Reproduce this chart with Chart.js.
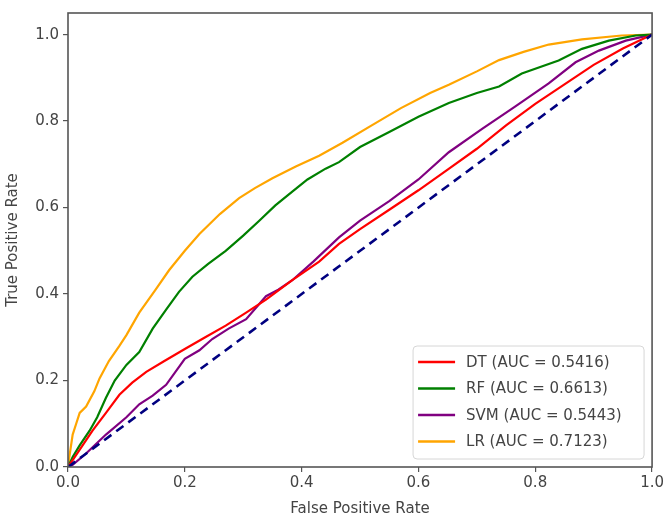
<!DOCTYPE html>
<html lang="en">
<head>
<meta charset="UTF-8">
<title>ROC curves</title>
<script src="https://cdn.jsdelivr.net/npm/chart.js"></script>
<style>
    html, body { margin: 0; padding: 0; background: #fff; }
    #wrap { width: 666px; height: 522px; }
</style>
</head>
<body>
<div id="wrap"><canvas id="rocChart" width="666" height="522"></canvas></div>
<script>
// values
const dtFpr  = [0, 0.008, 0.025, 0.042, 0.065, 0.088, 0.11, 0.134, 0.165, 0.2, 0.235, 0.27, 0.305, 0.339, 0.384, 0.43, 0.464, 0.5, 0.55, 0.6, 0.65, 0.7, 0.75, 0.8, 0.85, 0.9, 0.95, 1];
const dtTpr  = [0, 0.016, 0.05, 0.084, 0.125, 0.167, 0.195, 0.22, 0.245, 0.273, 0.3, 0.327, 0.357, 0.387, 0.432, 0.475, 0.516, 0.55, 0.595, 0.64, 0.688, 0.736, 0.79, 0.84, 0.885, 0.93, 0.968, 1];

const rfFpr  = [0, 0.008, 0.02, 0.037, 0.05, 0.065, 0.08, 0.1, 0.122, 0.145, 0.168, 0.19, 0.213, 0.24, 0.27, 0.3, 0.327, 0.355, 0.384, 0.41, 0.441, 0.464, 0.5, 0.55, 0.6, 0.652, 0.7, 0.738, 0.777, 0.84, 0.88, 0.926, 0.972, 1];
const rfTpr  = [0, 0.023, 0.05, 0.084, 0.115, 0.16, 0.2, 0.236, 0.266, 0.32, 0.364, 0.405, 0.44, 0.47, 0.5, 0.535, 0.569, 0.605, 0.637, 0.665, 0.69, 0.705, 0.74, 0.775, 0.81, 0.842, 0.865, 0.88, 0.91, 0.94, 0.967, 0.986, 0.998, 1];

const svmFpr = [0, 0.008, 0.03, 0.065, 0.1, 0.122, 0.145, 0.168, 0.2, 0.225, 0.247, 0.275, 0.305, 0.339, 0.36, 0.384, 0.42, 0.464, 0.5, 0.55, 0.6, 0.652, 0.709, 0.766, 0.823, 0.869, 0.909, 0.955, 1];
const svmTpr = [0, 0.005, 0.03, 0.075, 0.115, 0.145, 0.165, 0.19, 0.25, 0.27, 0.296, 0.32, 0.342, 0.395, 0.41, 0.432, 0.475, 0.531, 0.57, 0.615, 0.665, 0.728, 0.782, 0.834, 0.887, 0.936, 0.963, 0.986, 1];

const lrFpr  = [0, 0.003, 0.008, 0.014, 0.02, 0.031, 0.045, 0.054, 0.07, 0.088, 0.1, 0.122, 0.15, 0.173, 0.2, 0.225, 0.26, 0.293, 0.32, 0.35, 0.39, 0.43, 0.47, 0.52, 0.57, 0.62, 0.652, 0.7, 0.738, 0.78, 0.823, 0.88, 0.948, 1];
const lrTpr  = [0, 0.03, 0.075, 0.1, 0.125, 0.14, 0.175, 0.205, 0.245, 0.28, 0.305, 0.357, 0.41, 0.455, 0.5, 0.539, 0.585, 0.622, 0.645, 0.668, 0.695, 0.72, 0.75, 0.79, 0.83, 0.865, 0.884, 0.915, 0.941, 0.96, 0.977, 0.989, 0.998, 1];

const chanceLine = [0, 1];

const seriesLabels = ['DT (AUC = 0.5416)', 'RF (AUC = 0.6613)', 'SVM (AUC = 0.5443)', 'LR (AUC = 0.7123)'];
const seriesColors = ['#ff0000', '#008000', '#800080', '#ffa500'];

const xTicks = [0, 0.2, 0.4, 0.6, 0.8, 1.0];
const yTicks = [0, 0.2, 0.4, 0.6, 0.8, 1.0];

function toPoints(xs, ys) {
    return xs.map((x, i) => ({ x: x, y: ys[i] }));
}

const FONT = 'DejaVu Sans';
const TEXT = '#444';

// box around the whole plot area, like matplotlib spines
const framePlugin = {
    id: 'frame',
    afterDatasetsDraw(chart) {
        const a = chart.chartArea;
        const ctx = chart.ctx;
        ctx.save();
        ctx.strokeStyle = '#555';
        ctx.lineWidth = 1.6;
        ctx.strokeRect(a.left, a.top, a.right - a.left, a.bottom - a.top);
        ctx.restore();
    }
};

// legend drawn inside the lower right corner
const insideLegend = {
    id: 'insideLegend',
    afterDraw(chart) {
        const a = chart.chartArea;
        const ctx = chart.ctx;
        const w = 231, h = 113;
        const x0 = a.right - 8 - w;
        const y0 = a.bottom - 8 - h;
        ctx.save();
        ctx.beginPath();
        ctx.roundRect(x0, y0, w, h, 4);
        ctx.fillStyle = 'rgba(255,255,255,0.85)';
        ctx.fill();
        ctx.strokeStyle = '#d6d6d6';
        ctx.lineWidth = 1;
        ctx.stroke();
        ctx.font = '15px ' + FONT;
        ctx.textBaseline = 'middle';
        seriesLabels.forEach((label, i) => {
            const y = y0 + 16 + i * 26.5;
            ctx.strokeStyle = seriesColors[i];
            ctx.lineWidth = 2.5;
            ctx.beginPath();
            ctx.moveTo(x0 + 5, y);
            ctx.lineTo(x0 + 42, y);
            ctx.stroke();
            ctx.fillStyle = TEXT;
            ctx.fillText(label, x0 + 53, y + 1);
        });
        ctx.restore();
    }
};

const lineStyle = { showLine: true, fill: false, pointRadius: 0, borderWidth: 2.2, tension: 0 };

new Chart(document.getElementById('rocChart').getContext('2d'), {
    type: 'scatter',
    data: {
        datasets: [
            Object.assign({ label: 'chance', data: toPoints(chanceLine, chanceLine), borderColor: '#000080', borderDash: [9, 6], borderWidth: 2.6 }, { showLine: true, pointRadius: 0 }),
            Object.assign({ label: seriesLabels[0], data: toPoints(dtFpr, dtTpr), borderColor: seriesColors[0] }, lineStyle),
            Object.assign({ label: seriesLabels[1], data: toPoints(rfFpr, rfTpr), borderColor: seriesColors[1] }, lineStyle),
            Object.assign({ label: seriesLabels[2], data: toPoints(svmFpr, svmTpr), borderColor: seriesColors[2] }, lineStyle),
            Object.assign({ label: seriesLabels[3], data: toPoints(lrFpr, lrTpr), borderColor: seriesColors[3] }, lineStyle)
        ]
    },
    options: {
        responsive: false,
        animation: false,
        events: [],
        layout: { padding: { top: 5, right: 12, left: 0, bottom: 0 } },
        plugins: {
            legend: { display: false },
            tooltip: { enabled: false }
        },
        scales: {
            x: {
                type: 'linear',
                min: 0,
                max: 1,
                afterBuildTicks: s => { s.ticks = xTicks.map(v => ({ value: v })); },
                afterFit: s => { s.height = 55; },
                border: { display: false },
                grid: { drawOnChartArea: false, drawTicks: true, tickLength: 5, color: '#555', lineWidth: 1.2 },
                ticks: { color: TEXT, font: { family: FONT, size: 15 }, padding: 2, maxRotation: 0, callback: v => v.toFixed(1) },
                title: { display: true, text: 'False Positive Rate', color: TEXT, font: { family: FONT, size: 15 }, padding: { top: 0 } }
            },
            y: {
                type: 'linear',
                min: 0,
                max: 1.05,
                afterBuildTicks: s => { s.ticks = yTicks.map(v => ({ value: v })); },
                afterFit: s => { s.width = 68; },
                border: { display: false },
                grid: { drawOnChartArea: false, drawTicks: true, tickLength: 5, color: '#555', lineWidth: 1.2 },
                ticks: { color: TEXT, font: { family: FONT, size: 15 }, padding: 4, callback: v => v.toFixed(1) },
                title: { display: true, text: 'True Positive Rate', color: TEXT, font: { family: FONT, size: 15 }, padding: { bottom: 0 } }
            }
        }
    },
    plugins: [framePlugin, insideLegend]
});
</script>
</body>
</html>
